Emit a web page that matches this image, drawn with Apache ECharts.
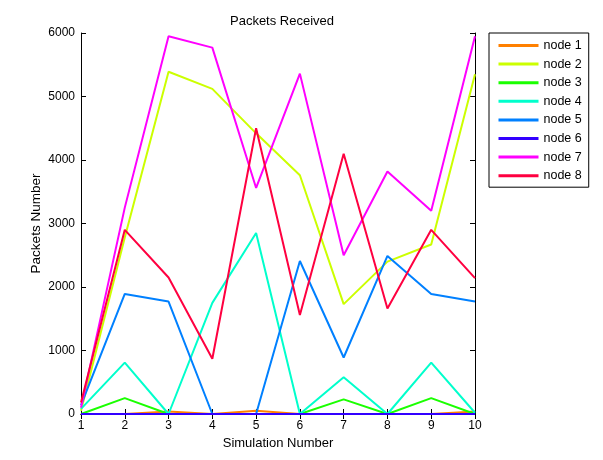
<!DOCTYPE html>
<html>
<head>
<meta charset="utf-8">
<script src="https://cdn.jsdelivr.net/npm/echarts@6/dist/echarts.min.js"></script>
<style>html,body{margin:0;padding:0;background:#fff;}#c{width:603px;height:460px;}</style>
</head>
<body>
<div id="c"></div>
<script>
var categories = ['1','2','3','4','5','6','7','8','9','10'];
var yTicks = [0,1000,2000,3000,4000,5000,6000];
var node1 = [0, 0, 40, 0, 50, 0, 0, 0, 0, 40];
var node2 = [50, 2780, 5390, 5120, 4420, 3760, 1730, 2400, 2670, 5350];
var node3 = [0, 250, 0, 0, 0, 0, 230, 0, 250, 0];
var node4 = [80, 810, 0, 1750, 2850, 0, 580, 0, 810, 20];
var node5 = [140, 1890, 1770, 0, 0, 2410, 890, 2490, 1890, 1770];
var node6 = [0, 0, 0, 0, 0, 0, 0, 0, 0, 0];
var node7 = [100, 3250, 5950, 5770, 3560, 5360, 2500, 3820, 3200, 5950];
var node8 = [180, 2900, 2150, 870, 4500, 1560, 4100, 1660, 2900, 2140];
var names = ['node 1','node 2','node 3','node 4','node 5','node 6','node 7','node 8'];
var values = [node1,node2,node3,node4,node5,node6,node7,node8];
var colors = ['#FF8000','#CCFF00','#1AFF00','#00FFCC','#0080FF','#3300FF','#FF00FF','#FF0040'];

var font = 'Liberation Sans, Arial, sans-serif';
var chart = echarts.init(document.getElementById('c'));
var series = names.map(function(n,i){
  return {name:n,type:'line',data:values[i],symbol:'none',showSymbol:false,
    lineStyle:{width:2,color:colors[i]},itemStyle:{color:colors[i]},animation:false};
});
var axisCommon = {
  axisLine:{show:true,lineStyle:{color:'#000',width:1}},
  axisTick:{show:true,inside:true,length:5,lineStyle:{color:'#000'}},
  splitLine:{show:false}
};
chart.setOption({
  animation:false,
  backgroundColor:'#fff',
  title:{text:'Packets Received',left:277,top:10,textAlign:'center',
    textStyle:{fontFamily:font,fontSize:13,fontWeight:'normal',color:'#000'}},
  grid:{left:81,right:128,top:33,bottom:46,containLabel:false},
  legend:{orient:'vertical',left:489,top:33,itemWidth:40,itemHeight:14,itemGap:5.6,
    padding:[6,7,5,8],borderColor:'#000',borderWidth:1,backgroundColor:'#fff',
    itemStyle:{opacity:0},lineStyle:{width:3},
    textStyle:{fontFamily:font,fontSize:12.5,color:'#000'},data:names},
  xAxis:[
    Object.assign({type:'category',data:categories,boundaryGap:false,position:'bottom',
      name:'Simulation Number',nameLocation:'middle',nameGap:23,nameMoveOverlap:false,
      nameTextStyle:{fontFamily:font,fontSize:13,color:'#000'},
      axisLabel:{fontFamily:font,fontSize:12,color:'#000',margin:6,interval:0}},axisCommon),
    Object.assign({type:'category',data:categories,boundaryGap:false,position:'top',
      axisLabel:{show:false}},axisCommon)
  ],
  yAxis:[
    Object.assign({type:'value',min:yTicks[0],max:yTicks[yTicks.length-1],interval:1000,position:'left',
      name:'Packets Number',nameLocation:'middle',nameGap:38,nameMoveOverlap:false,
      nameTextStyle:{fontFamily:font,fontSize:13.5,color:'#000'},
      axisLabel:{fontFamily:font,fontSize:12,color:'#000',margin:6,formatter:function(v){return String(v);}}},axisCommon),
    Object.assign({type:'value',min:yTicks[0],max:yTicks[yTicks.length-1],interval:1000,position:'right',
      axisLabel:{show:false}},axisCommon)
  ],
  series:series
});
</script>
</body>
</html>
